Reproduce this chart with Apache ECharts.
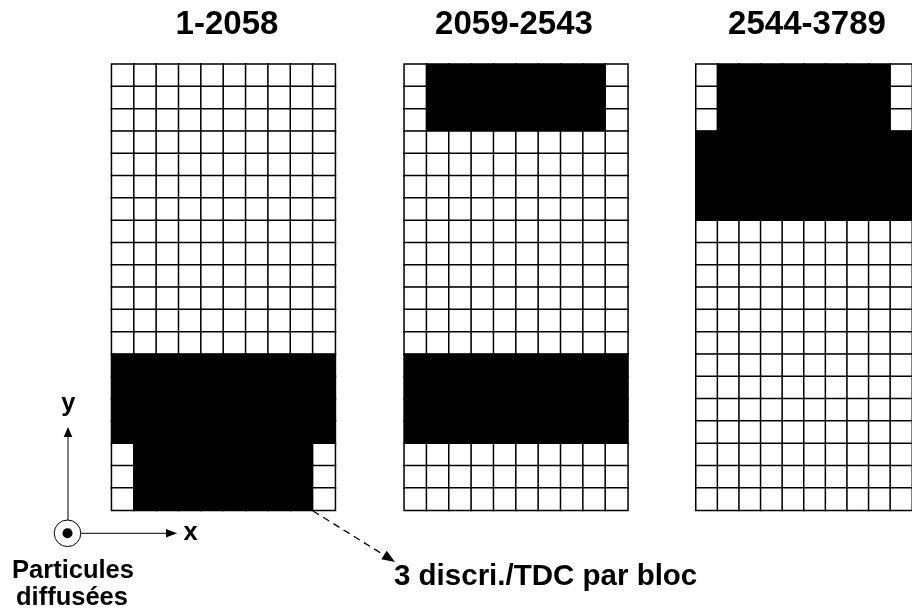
<!DOCTYPE html>
<html>
<head>
<meta charset="utf-8">
<script src="https://cdn.jsdelivr.net/npm/echarts@6/dist/echarts.min.js"></script>
<style>html,body{margin:0;padding:0;background:#fff}#c{width:912px;height:611px}</style>
</head>
<body>
<div id="c"></div>
<script>
// Block titles (channel ranges)
var blockTitles = ['1-2058', '2059-2543', '2544-3789'];
// Column and row categories of each detector block (10 x 20)
var colCats = ['0','1','2','3','4','5','6','7','8','9'];
var rowCats = ['0','1','2','3','4','5','6','7','8','9','10','11','12','13','14','15','16','17','18','19'];
// Cell states, row by row from the top: 1 = hit (black), 0 = empty (white)
var block1Rows = [
  '0000000000','0000000000','0000000000','0000000000','0000000000',
  '0000000000','0000000000','0000000000','0000000000','0000000000',
  '0000000000','0000000000','0000000000','1111111111','1111111111',
  '1111111111','1111111111','0111111110','0111111110','0111111110'
];
var block2Rows = [
  '0111111110','0111111110','0111111110','0000000000','0000000000',
  '0000000000','0000000000','0000000000','0000000000','0000000000',
  '0000000000','0000000000','0000000000','1111111111','1111111111',
  '1111111111','1111111111','0000000000','0000000000','0000000000'
];
var block3Rows = [
  '0111111110','0111111110','0111111110','1111111111','1111111111',
  '1111111111','1111111111','0000000000','0000000000','0000000000',
  '0000000000','0000000000','0000000000','0000000000','0000000000',
  '0000000000','0000000000','0000000000','0000000000','0000000000'
];
var blocks = [block1Rows, block2Rows, block3Rows];
var annotXY = ['x', 'y'];
var annotSource = ['Particules', 'diffusées'];
var annotNote = '3 discri./TDC par bloc';

function toCells(rows) {
  var out = [];
  rows.forEach(function (r, yi) {
    for (var xi = 0; xi < r.length; xi++) out.push([xi, yi, +r[xi]]);
  });
  return out;
}

var FONT = '"Liberation Sans", Arial, Helvetica, sans-serif';
var gridLefts = [111.7, 404.3, 696];
var titleCenters = [227, 514, 807];
var grids = [], xAxes = [], yAxes = [], series = [];
var graphics = [];
for (var i = 0; i < 3; i++) {
  grids.push({left: gridLefts[i], top: 64.3, width: 223.5, height: 446});
  xAxes.push({type: 'category', gridIndex: i, data: colCats, show: false});
  yAxes.push({type: 'category', gridIndex: i, data: rowCats, inverse: true, show: false});
  series.push({
    type: 'heatmap', xAxisIndex: i, yAxisIndex: i, data: toCells(blocks[i]),
    itemStyle: {borderColor: '#000', borderWidth: 1.5},
    emphasis: {disabled: true}, animation: false
  });
  graphics.push({type: 'text', style: {text: blockTitles[i], x: titleCenters[i], y: 25,
    align: 'center', verticalAlign: 'middle', font: 'bold 33px ' + FONT, fill: '#000'}});
}

var cx = 67.5, cy = 533.3;
graphics = graphics.concat([
  {type: 'circle', shape: {cx: cx, cy: cy, r: 13.3}, style: {fill: '#fff', stroke: '#000', lineWidth: 1}},
  {type: 'circle', shape: {cx: cx, cy: cy, r: 5}, style: {fill: '#000'}},
  {type: 'line', shape: {x1: cx + 0.5, y1: cy - 13.3, x2: cx + 0.5, y2: 436}, style: {stroke: '#000', lineWidth: 1}},
  {type: 'polygon', shape: {points: [[cx + 0.5, 427], [cx - 3.8, 437], [cx + 4.8, 437]]}, style: {fill: '#000'}},
  {type: 'line', shape: {x1: cx + 13.3, y1: cy, x2: 167, y2: cy}, style: {stroke: '#000', lineWidth: 1}},
  {type: 'polygon', shape: {points: [[177, cy], [166, cy - 4.3], [166, cy + 4.3]]}, style: {fill: '#000'}},
  {type: 'text', style: {text: annotXY[1], x: 68.3, y: 404, align: 'center', verticalAlign: 'middle', font: 'bold 25.5px ' + FONT, fill: '#000'}},
  {type: 'text', style: {text: annotXY[0], x: 183.5, y: 532.5, align: 'left', verticalAlign: 'middle', font: 'bold 25.5px ' + FONT, fill: '#000'}},
  {type: 'text', style: {text: annotSource[0], x: 73, y: 571, align: 'center', verticalAlign: 'middle', font: 'bold 25.5px ' + FONT, fill: '#000'}},
  {type: 'text', style: {text: annotSource[1], x: 72, y: 597.5, align: 'center', verticalAlign: 'middle', font: 'bold 25.5px ' + FONT, fill: '#000'}},
  {type: 'line', shape: {x1: 313, y1: 511, x2: 384, y2: 555}, style: {stroke: '#000', lineWidth: 1.3, lineDash: [7, 5]}},
  {type: 'polygon', shape: {points: [[395, 562], [381.3, 559.2], [386.7, 550.8]]}, style: {fill: '#000'}},
  {type: 'text', style: {text: annotNote, x: 394, y: 576.5, align: 'left', verticalAlign: 'middle', font: 'bold 29.5px ' + FONT, fill: '#000'}}
]);

var chart = echarts.init(document.getElementById('c'), null, {renderer: 'canvas'});
chart.setOption({
  animation: false,
  backgroundColor: '#fff',
  grid: grids,
  xAxis: xAxes,
  yAxis: yAxes,
  visualMap: {
    type: 'piecewise', show: false, seriesIndex: [0, 1, 2], dimension: 2,
    pieces: [{value: 0, color: '#fff'}, {value: 1, color: '#000'}]
  },
  series: series,
  graphic: graphics
});
</script>
</body>
</html>
